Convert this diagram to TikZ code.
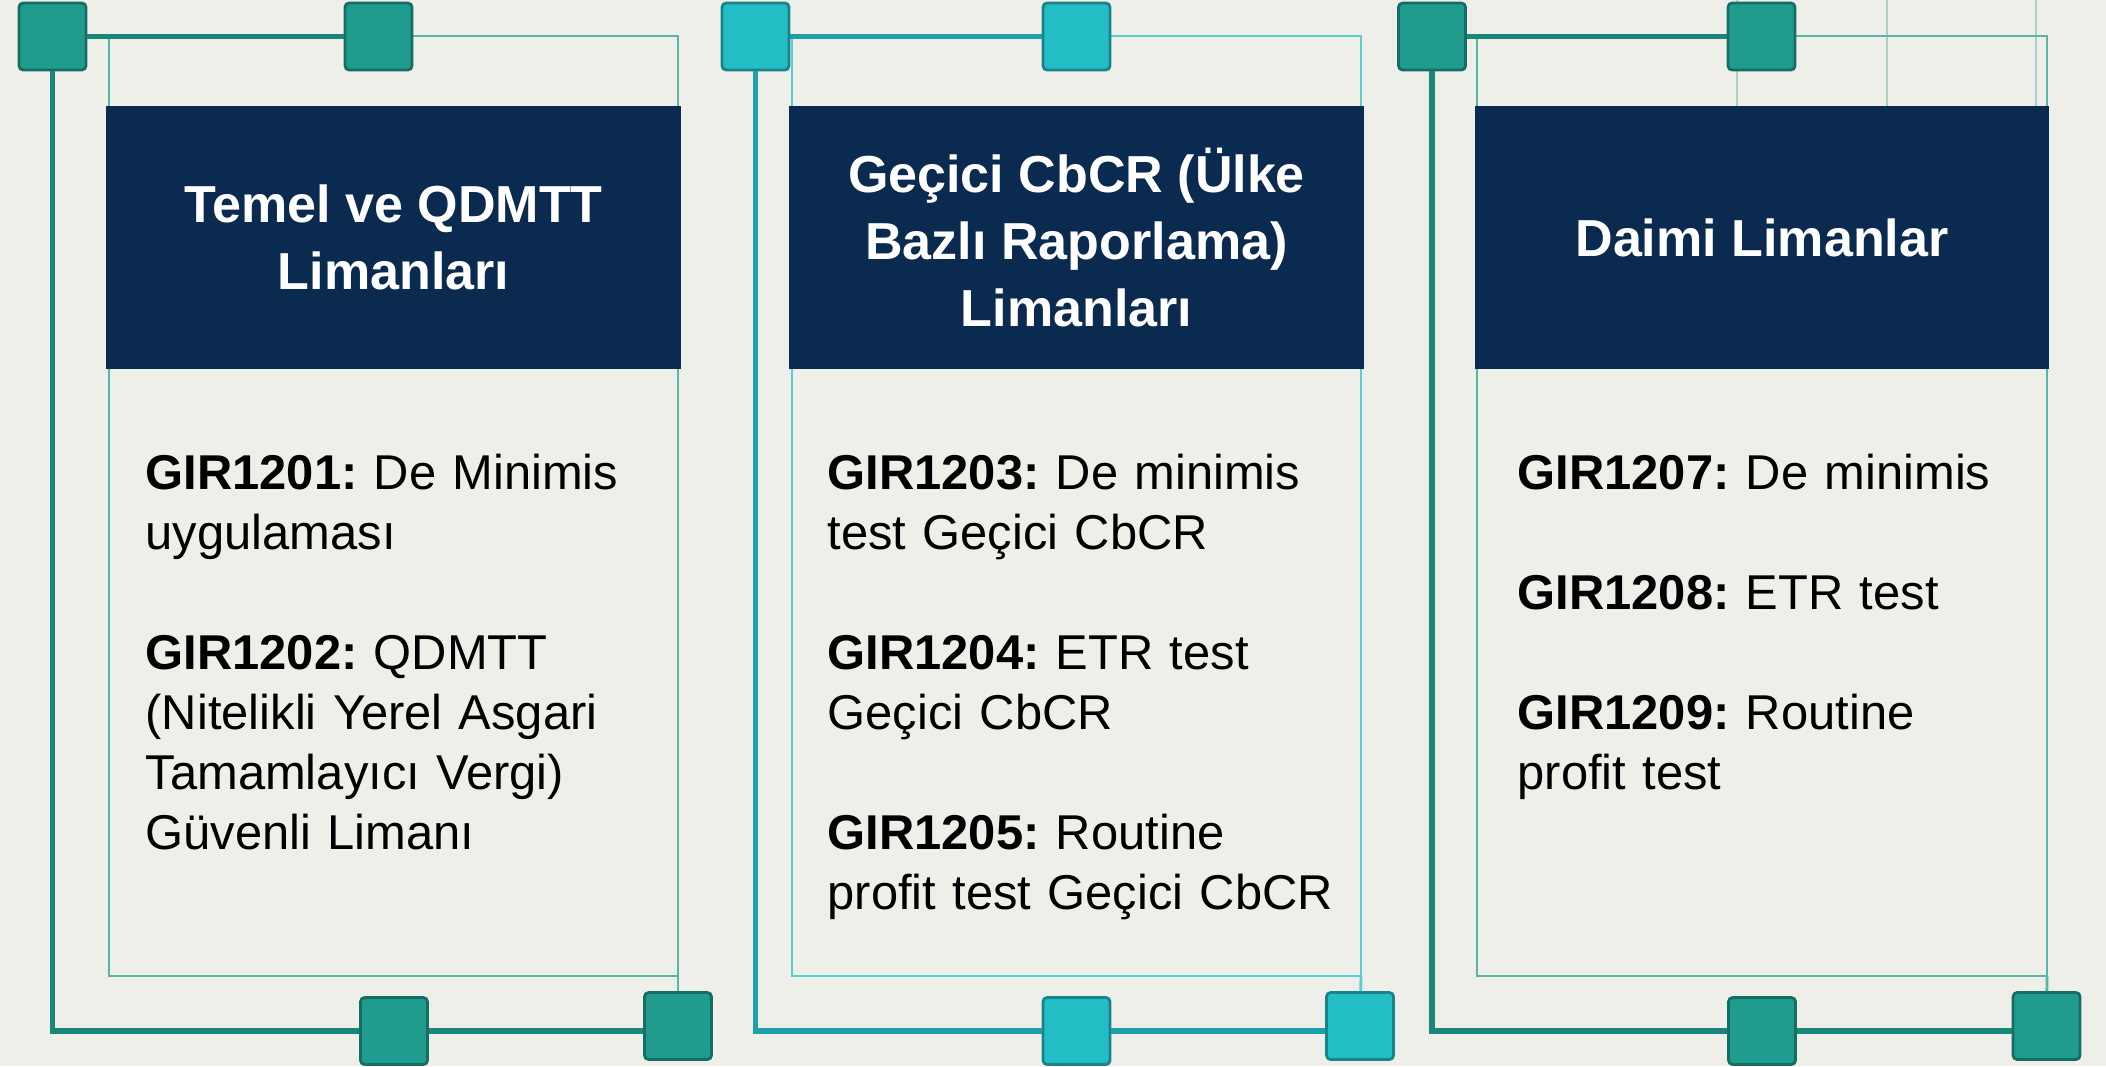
\documentclass[tikz,border=0pt]{standalone}
\usepackage{fontspec}
\setmainfont{Liberation Sans}
\usepackage{tikz}
\usetikzlibrary{positioning}

\definecolor{paper}{HTML}{EFEFEA}
\definecolor{navy}{HTML}{0B2A4F}
\definecolor{tealA}{HTML}{1F9C8E}
\definecolor{cyanA}{HTML}{22BDC5}
\frenchspacing

\begin{document}
\begin{tikzpicture}[x=0.01cm,y=-0.01cm]
  \tikzset{sq/.style = {shape=rectangle,minimum size=0.67cm,inner sep=0pt,rounded corners=1.2pt,line width=0.8pt}}
  \tikzset{head/.style = {shape=rectangle,fill=navy,minimum width=5.74cm,minimum height=2.63cm,text=white,align=center,font=\fontsize{14.8}{19}\selectfont\bfseries}}
  \tikzset{body/.style = {anchor=base west,inner sep=0pt,text width=5.4cm,align=left,font=\fontsize{13.9}{17.07}\selectfont}}
  \tikzset{thickline/.style = {line width=1.45pt}}
  \tikzset{thinline/.style = {line width=0.8pt}}

  \fill[paper] (0,0) rectangle (2106,1066);
  \useasboundingbox (0,0) rectangle (2106,1066);

  % faint guide lines above the third header
  \foreach \gx in {1737,1887,2036}
    \draw[tealA!35!paper,line width=0.6pt] (\gx,0) -- (\gx,106);

  \foreach \i/\tlx/\tmx/\fl/\fr/\bmx/\brx/\col/\title in {
      1/52.5/378.5/109/678/394/678/tealA/{Temel ve QDMTT\\Limanları},
      2/755.5/1076.5/792/1361/1076.5/1360/cyanA/{Geçici CbCR (Ülke\\Bazlı Raporlama)\\Limanları},
      3/1432/1761.5/1477/2047/1762/2046.5/tealA/{Daimi Limanlar}}
  {
    \coordinate (fnw\i) at (\fl,36);
    \coordinate (fse\i) at (\fr,976);
    \draw[thinline,\col!75!white] (fnw\i) rectangle (fse\i);

    \node[head] (head\i) at ({(\fl+\fr)/2},237.5) {\title};

    \node[sq,fill=\col,draw=\col!70!black] (tl\i) at (\tlx,36.5) {};
    \node[sq,fill=\col,draw=\col!70!black] (tm\i) at (\tmx,36.5) {};
    \node[sq,fill=\col,draw=\col!70!black] (bm\i) at (\bmx,1031) {};
    \node[sq,fill=\col,draw=\col!70!black] (br\i) at (\brx,1026) {};

    \draw[thickline,\col!85!black] (tl\i) -- (tm\i);
    \draw[thickline,\col!85!black] (tl\i) |- (bm\i);
    \draw[thickline,\col!85!black] (bm\i.east) -- (bm\i.east -| br\i.west);
    \draw[thinline,\col!75!white] (fse\i) -- (br\i);
  }

  \node[body] (txt1) at (145,489) {\textbf{GIR1201:} De Minimis\\uygulaması\\[17.07pt]
    \textbf{GIR1202:} QDMTT\\(Nitelikli Yerel Asgari\\Tamamlayıcı Vergi)\\Güvenli Limanı};
  \node[body] (txt2) at (827,489) {\textbf{GIR1203:} De minimis\\test Geçici CbCR\\[17.07pt]
    \textbf{GIR1204:} ETR test\\Geçici CbCR\\[17.07pt]
    \textbf{GIR1205:} Routine\\profit test Geçici CbCR};
  \node[body] (txt3) at (1517,489) {\textbf{GIR1207:} De minimis\\[17.07pt]
    \textbf{GIR1208:} ETR test\\[17.07pt]
    \textbf{GIR1209:} Routine\\profit test};
\end{tikzpicture}
\end{document}
